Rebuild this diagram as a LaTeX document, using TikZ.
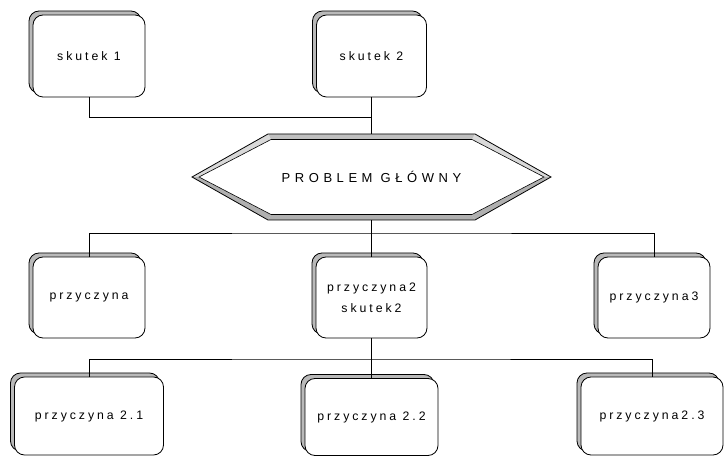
\documentclass[tikz,border=0pt]{standalone}
\usepackage{fontspec}
\setmainfont{Liberation Sans}
\newfontfamily\lblfont{Liberation Sans}[LetterSpace=24]
\newfontfamily\hexfont{Liberation Sans}[LetterSpace=35]
\usetikzlibrary{shadows}
\begin{document}
\begin{tikzpicture}[x=1pt,y=-1pt,
  box/.style={draw=black, line width=0.8pt, fill=white, rounded corners=10pt,
    align=center, inner sep=0pt, font=\lblfont\fontsize{12.3}{21}\selectfont,
    copy shadow={shadow xshift=-4pt, shadow yshift=4pt, fill=gray!55, draw=black, line width=0.8pt}},
  link/.style={draw=black, line width=0.8pt}]
\clip (0,0) rectangle (724,457);
\fill[white] (0,0) rectangle (724,457);

% hexagon
\coordinate (O1) at (192,177); \coordinate (O2) at (268,134);
\coordinate (O3) at (475,134); \coordinate (O4) at (551,177);
\coordinate (O5) at (475,220); \coordinate (O6) at (268,220);
\coordinate (I1) at (199,177); \coordinate (I2) at (271,139.5);
\coordinate (I3) at (472,139.5); \coordinate (I4) at (544,177);
\coordinate (I5) at (472,214.5); \coordinate (I6) at (271,214.5);
\fill[gray!50] (O2) -- (O3) -- (I3) -- (I2) -- cycle;
\fill[gray!30] (O3) -- (O4) -- (I4) -- (I3) -- cycle;
\fill[gray!62] (O4) -- (O5) -- (I5) -- (I4) -- cycle;
\fill[gray!62] (O5) -- (O6) -- (I6) -- (I5) -- cycle;
\fill[gray!62] (O6) -- (O1) -- (I1) -- (I6) -- cycle;
\fill[gray!30] (O1) -- (O2) -- (I2) -- (I1) -- cycle;
\draw[line width=0.8pt, line join=miter] (O1) -- (O2) -- (O3) -- (O4) -- (O5) -- (O6) -- cycle;
\draw[line width=0.6pt, fill=white] (I1) -- (I2) -- (I3) -- (I4) -- (I5) -- (I6) -- cycle;
\node[minimum width=359pt, minimum height=86pt, inner sep=0pt,
  font=\hexfont\fontsize{13}{15}\selectfont] (prob) at (371.5,177) {PROBLEM GŁÓWNY};

% boxes
\node[box, minimum width=112pt, minimum height=82pt] (s1) at (89,56) {skutek 1};
\node[box, minimum width=110pt, minimum height=82pt] (s2) at (371.5,56) {skutek 2};
\node[box, minimum width=112pt, minimum height=81pt] (p1) at (89,297.5) {przyczyna};
\node[box, minimum width=111pt, minimum height=81pt] (p2) at (371.5,297.5) {przyczyna2\\skutek2};
\node[box, minimum width=112pt, minimum height=81pt] (p3) at (654,297.5) {przyczyna3};
\node[box, minimum width=149pt, minimum height=78pt] (q1) at (89,416) {przyczyna 2.1};
\node[box, minimum width=133pt, minimum height=77pt] (q2) at (371.5,417) {przyczyna 2.2};
\node[box, minimum width=142pt, minimum height=78pt] (q3) at (652,416) {przyczyna2.3};

% connectors
\coordinate (j1) at (371.5,117);
\coordinate (j2) at (371.5,233);
\coordinate (j3) at (371.5,359);
\draw[link] (s1.south) |- (j1);
\draw[link] (s2.south) -- (prob.north);
\draw[link] (prob.south) -- (p2.north);
\draw[link] (p1.north) |- (j2) -| (p3.north);
\draw[link] (p2.south) -- (q2.north);
\draw[link] (q1.north) |- (j3) -| (q3.north);
\end{tikzpicture}
\end{document}
